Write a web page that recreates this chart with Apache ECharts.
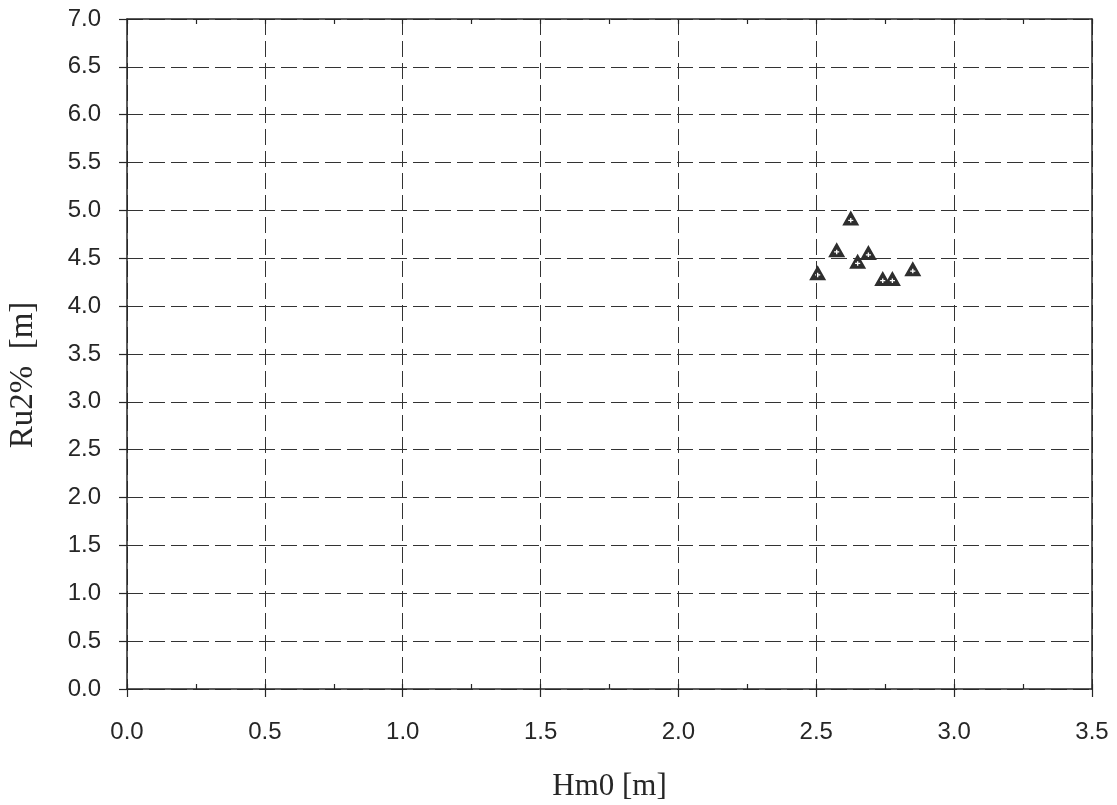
<!DOCTYPE html>
<html>
<head>
<meta charset="utf-8">
<script src="https://cdn.jsdelivr.net/npm/echarts@6/dist/echarts.min.js"></script>
<style>
  html, body { margin: 0; padding: 0; background: #fff; }
  #chart { width: 1117px; height: 805px; }
</style>
</head>
<body>
<div id="chart"></div>
<script>
// Measured wave height vs. 2% run-up
const hm0 = [2.625, 2.574, 2.689, 2.650, 2.505, 2.741, 2.776, 2.850];
const ru2 = [4.92, 4.59, 4.56, 4.47, 4.35, 4.29, 4.29, 4.39];

const xRange = { min: 0, max: 3.5, step: 0.5 };
const yRange = { min: 0, max: 7.0, step: 0.5 };
const xTitle = 'Hm0 [m]';
const yTitle = 'Ru2%  [m]';

const ink = '#262626';
const labelFont = '"Liberation Sans", Arial, sans-serif';
const titleFont = '"Liberation Serif", "Times New Roman", serif';

// filled triangle with a plus-shaped hole (opposite winding)
const triPlus = 'path://M50,0 L100,100 L0,100 Z ' +
  'M46,50 L46,61 L35,61 L35,69 L46,69 L46,80 L54,80 L54,69 L65,69 L65,61 L54,61 L54,50 Z';

const fmt = v => v.toFixed(1);
const dash = { type: [16, 6], color: '#333', width: 1 };

const chart = echarts.init(document.getElementById('chart'), null, { renderer: 'canvas' });
chart.setOption({
  animation: false,
  backgroundColor: '#fff',
  grid: { left: 127, right: 25, top: 19, bottom: 116, containLabel: false, outerBoundsMode: 'none' },
  xAxis: [
    {
      type: 'value', position: 'bottom',
      min: xRange.min, max: xRange.max, interval: xRange.step,
      name: xTitle, nameLocation: 'middle', nameGap: 82,
      nameTextStyle: { fontFamily: titleFont, fontSize: 31, color: ink },
      axisLine: { show: true, onZero: false, lineStyle: { color: ink, width: 1.5 } },
      axisTick: { show: true, inside: false, length: 8, lineStyle: { color: ink, width: 1.2 } },
      axisLabel: { formatter: fmt, margin: 31, fontFamily: labelFont, fontSize: 24, color: ink },
      splitLine: { show: true, lineStyle: dash }
    },
    {
      // short inward ticks every 0.25 along the bottom edge
      type: 'value', position: 'bottom',
      min: xRange.min, max: xRange.max, interval: xRange.step / 2,
      axisLine: { show: false },
      axisTick: { show: true, inside: true, length: 5, lineStyle: { color: ink, width: 1.2 } },
      axisLabel: { show: false }, splitLine: { show: false }
    },
    {
      type: 'value', position: 'top',
      min: xRange.min, max: xRange.max, interval: xRange.step / 2,
      axisLine: { show: true, onZero: false, lineStyle: { color: ink, width: 1.5 } },
      axisTick: { show: true, inside: true, length: 5, lineStyle: { color: ink, width: 1.2 } },
      axisLabel: { show: false }, splitLine: { show: false }
    }
  ],
  yAxis: [
    {
      type: 'value', position: 'left',
      min: yRange.min, max: yRange.max, interval: yRange.step,
      name: yTitle, nameLocation: 'middle', nameGap: 87, nameRotate: 90,
      nameTextStyle: { fontFamily: titleFont, fontSize: 33, color: ink, padding: [0, 42, 0, 0] },
      axisLine: { show: true, onZero: false, lineStyle: { color: ink, width: 1.5 } },
      axisTick: { show: true, inside: false, length: 8, lineStyle: { color: ink, width: 1.2 } },
      axisLabel: { formatter: fmt, margin: 26, fontFamily: labelFont, fontSize: 24, color: ink },
      splitLine: { show: true, lineStyle: dash }
    },
    {
      type: 'value', position: 'right',
      min: yRange.min, max: yRange.max, interval: yRange.step,
      axisLine: { show: true, onZero: false, lineStyle: { color: ink, width: 1.5 } },
      axisTick: { show: false }, axisLabel: { show: false }, splitLine: { show: false }
    }
  ],
  series: [
    {
      type: 'scatter',
      xAxisIndex: 0, yAxisIndex: 0,
      data: hm0.map((x, i) => [x, ru2[i]]),
      symbol: triPlus,
      symbolSize: [17, 15],
      itemStyle: { color: '#2e2e2e', opacity: 1 },
      emphasis: { disabled: true }
    }
  ]
});
</script>
</body>
</html>
